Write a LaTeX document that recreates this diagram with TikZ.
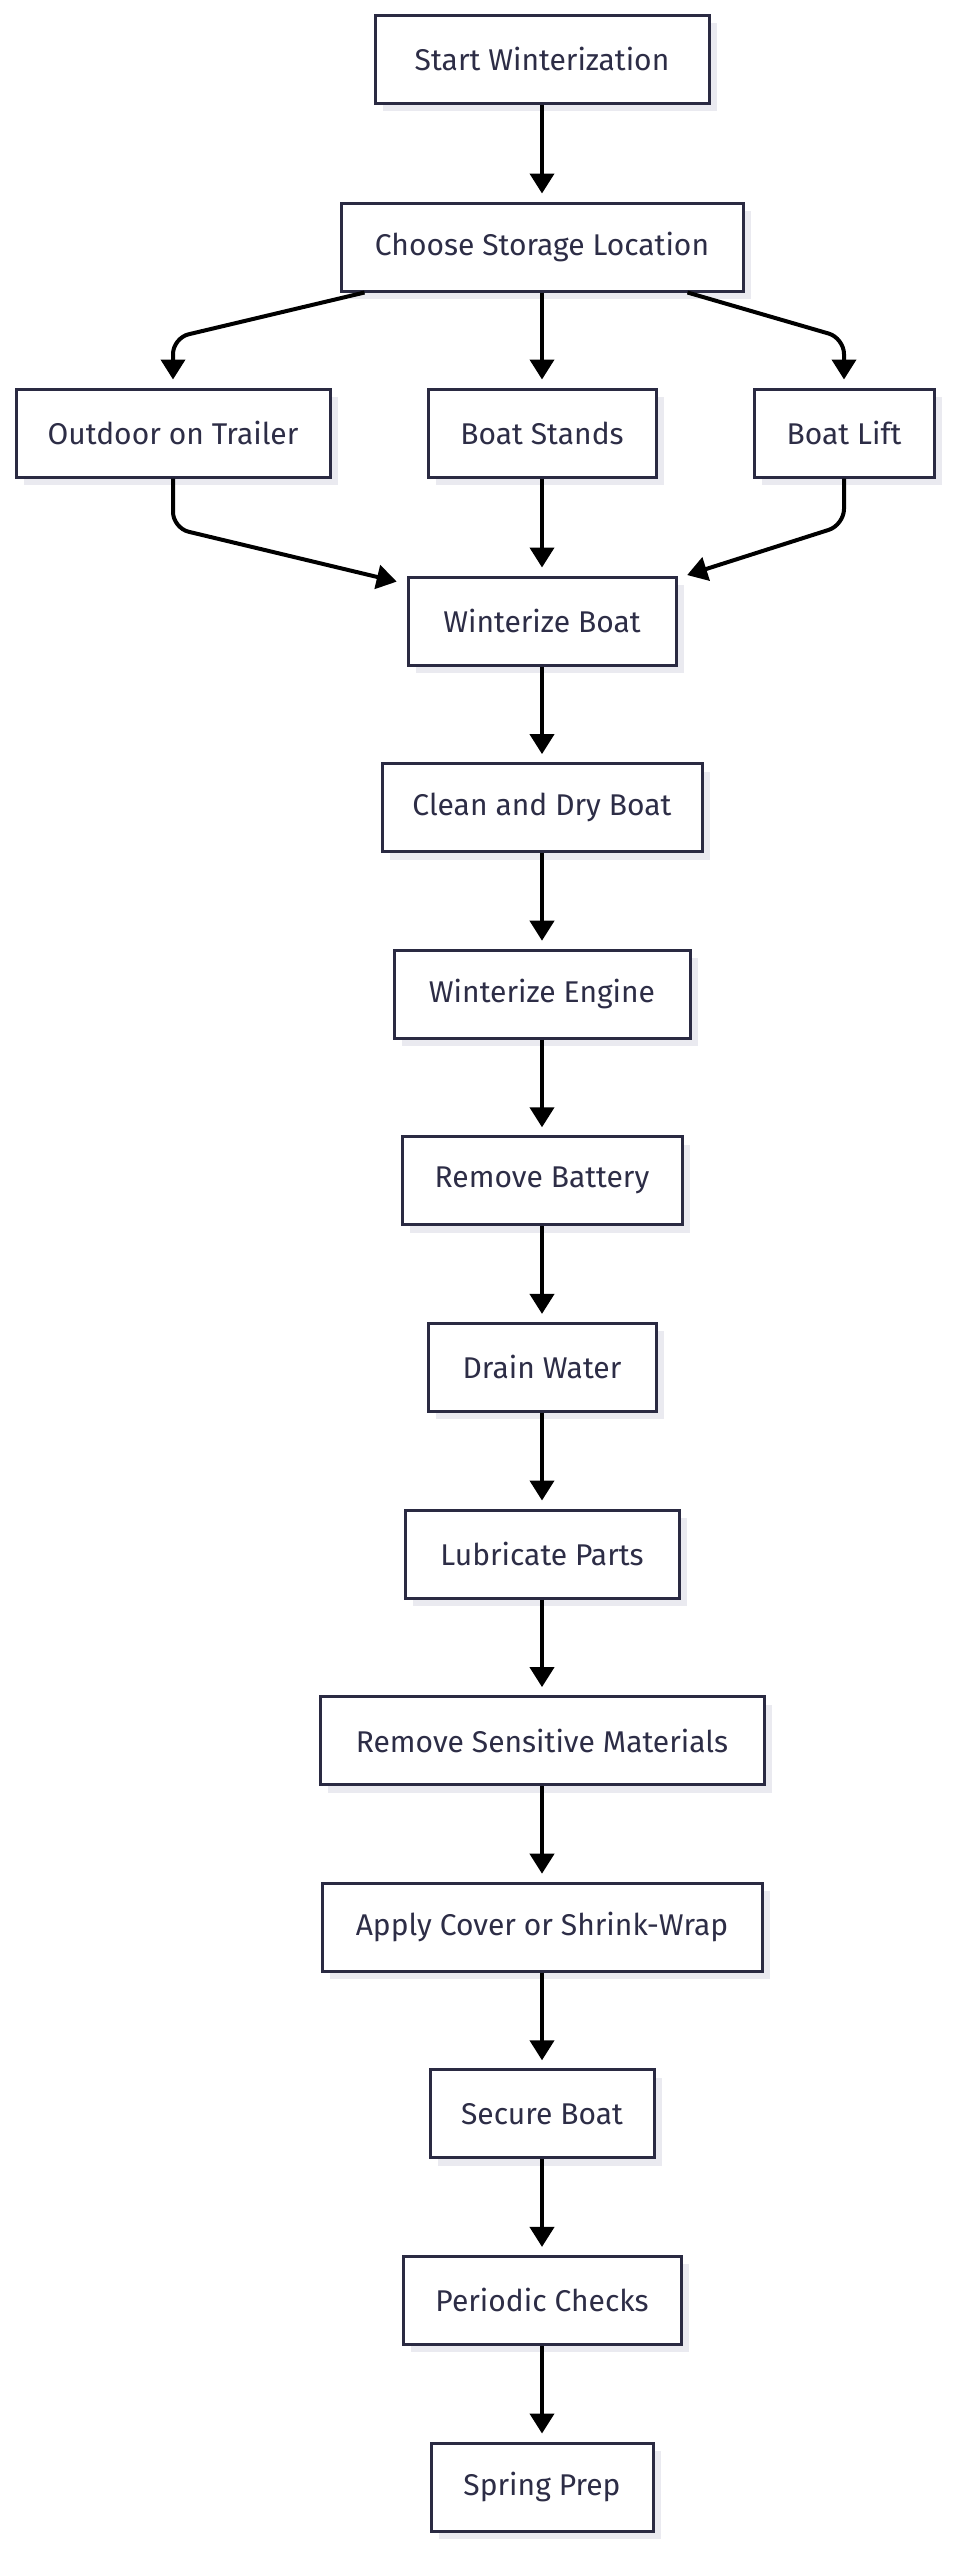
\documentclass[tikz,border=0pt]{standalone}
\usepackage{fontspec}
\setmainfont{Fira Sans}
\usetikzlibrary{arrows.meta,shadows}
\definecolor{boxline}{RGB}{42,42,66}
\definecolor{boxtext}{RGB}{45,45,70}
\definecolor{boxshade}{RGB}{234,234,240}
\tikzstyle{stepbox}=[
        draw=boxline, line width=1.5pt, fill=white, text=boxtext,
        minimum height=44pt, inner sep=0pt,
        font=\fontsize{15}{18}\selectfont,
        drop shadow={shadow xshift=4pt, shadow yshift=-4pt, fill=boxshade, opacity=1}
]
\tikzstyle{flow}=[
        line width=2pt, rounded corners=8pt, shorten >=4pt,
        -{Triangle[length=10pt,width=12pt]}
]

\begin{document}
\begin{tikzpicture}[x=0.5pt,y=-0.5pt]
                        \useasboundingbox (0,0) rectangle (957,2560);

                        \node[stepbox, minimum width=167pt] (start) at (542,59) {Start Winterization};
                        \node[stepbox, minimum width=201pt] (choose) at (542,247) {Choose Storage Location};

                        \node[stepbox, minimum width=157pt] (trailer) at (173,433) {Outdoor on Trailer};
                        \node[stepbox, minimum width=114pt] (stands) at (542,433) {Boat Stands};
                        \node[stepbox, minimum width=90pt] (lift) at (844,433) {Boat Lift};

                        \foreach \name/\boxw/\txt [count=\i from 0] in {
                            winterize/134/Winterize Boat,
                            clean/160/Clean and Dry Boat,
                            engine/148/Winterize Engine,
                            battery/140/Remove Battery,
                            drain/114/Drain Water,
                            lubricate/137/Lubricate Parts,
                            sensitive/222/Remove Sensitive Materials,
                            cover/220/Apply Cover or Shrink-Wrap,
                            secure/112/Secure Boat,
                            checks/139/Periodic Checks,
                            spring/111/Spring Prep} {
                            \node[stepbox, minimum width=\boxw pt] (\name) at (542,{621+186.6*\i}) {\txt};
                        }

                        \coordinate (trailerin) at (173,338);
                        \coordinate (liftin) at (844,338);
                        \coordinate (trailerout) at (173,528);
                        \coordinate (liftout) at (844,525);

                        \draw[flow] (start) -- (choose);
                        \draw[flow] ([xshift=12.5pt]choose.south west) -- (trailerin) -- (trailer.north);
                        \draw[flow] (choose) -- (stands);
                        \draw[flow] ([xshift=-28.5pt]choose.south east) -- (liftin) -- (lift.north);

                        \draw[flow] (trailer.south) -- (trailerout) -- ([xshift=-1pt,yshift=-4pt]winterize.north west);
                        \draw[flow] (stands) -- (winterize);
                        \draw[flow] (lift.south) -- (liftout) -- ([xshift=1pt,yshift=-1pt]winterize.north east);

                        \foreach \a/\b in {winterize/clean, clean/engine, engine/battery,
                            battery/drain, drain/lubricate, lubricate/sensitive,
                            sensitive/cover, cover/secure, secure/checks, checks/spring} {
                            \draw[flow] (\a) -- (\b);
                        }
                    \end{tikzpicture}
\end{document}
